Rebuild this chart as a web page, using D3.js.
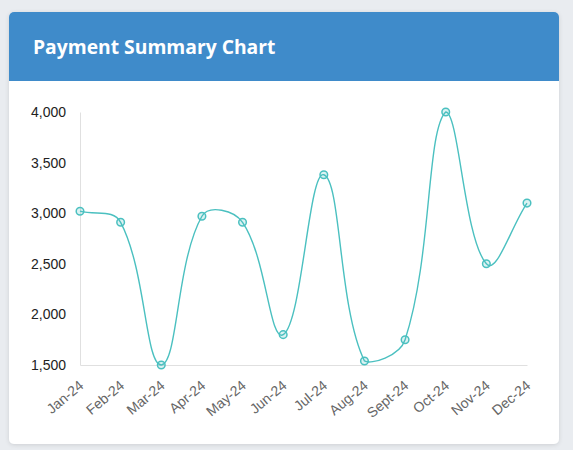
<!DOCTYPE html>
<html>
<head>
<meta charset="utf-8">
<script src="https://cdn.jsdelivr.net/npm/d3@7"></script>
<style>
  body { margin: 0; background: #e9ecf0; }
  svg { display: block; }
</style>
</head>
<body>
<div id="chart"></div>
<script>
var months = ["Jan-24", "Feb-24", "Mar-24", "Apr-24", "May-24", "Jun-24",
    "Jul-24", "Aug-24", "Sept-24", "Oct-24", "Nov-24", "Dec-24"];
var payments = [3020, 2910, 1500, 2970, 2910, 1800, 3380, 1540, 1750, 4000, 2500, 3100];
var yTicks = [1500, 2000, 2500, 3000, 3500, 4000];
var title = "Payment Summary Chart";

var W = 573, H = 450;
var card = { x: 9, y: 12, w: 550, h: 432, head: 69 };
var margin = { top: 112, left: 80, right: 46, bottom: 85 };
var width = W - margin.left - margin.right,
    height = H - margin.top - margin.bottom;

// chart.js style spline (tension 0.4, control points capped to plot area)
function chartSpline(context) {
    var pts;
    return {
        areaStart: function () {}, areaEnd: function () {},
        lineStart: function () { pts = []; },
        point: function (x, y) { pts.push([+x, +y]); },
        lineEnd: function () {
            var t = 0.4, n = pts.length, cps = [];
            for (var i = 0; i < n; i++) {
                var p = pts[i], a = pts[i - 1] || p, b = pts[i + 1] || p;
                var d01 = Math.hypot(p[0] - a[0], p[1] - a[1]);
                var d12 = Math.hypot(b[0] - p[0], b[1] - p[1]);
                var s01 = d01 / (d01 + d12) || 0, s12 = d12 / (d01 + d12) || 0;
                var fa = t * s01, fb = t * s12;
                var c = [[p[0] - fa * (b[0] - a[0]), p[1] - fa * (b[1] - a[1])],
                         [p[0] + fb * (b[0] - a[0]), p[1] + fb * (b[1] - a[1])]];
                c.forEach(function (q) {
                    q[0] = Math.max(0, Math.min(width, q[0]));
                    q[1] = Math.max(0, Math.min(height, q[1]));
                });
                cps.push(c);
            }
            context.moveTo(pts[0][0], pts[0][1]);
            for (var j = 1; j < n; j++) {
                context.bezierCurveTo(cps[j - 1][1][0], cps[j - 1][1][1],
                    cps[j][0][0], cps[j][0][1], pts[j][0], pts[j][1]);
            }
        }
    };
}

var svg = d3.select("#chart").append("svg")
    .attr("width", W)
    .attr("height", H);

var defs = svg.append("defs");
defs.append("clipPath").attr("id", "cardclip")
    .append("rect")
    .attr("x", card.x).attr("y", card.y)
    .attr("width", card.w).attr("height", card.h)
    .attr("rx", 5);
var f = defs.append("filter").attr("id", "shadow")
    .attr("x", "-5%").attr("y", "-5%").attr("width", "110%").attr("height", "110%");
f.append("feDropShadow").attr("dx", 0).attr("dy", 1).attr("stdDeviation", 2)
    .attr("flood-color", "#000").attr("flood-opacity", 0.12);

svg.append("rect")
    .attr("width", W).attr("height", H)
    .attr("fill", "#e9ecf0");

svg.append("rect")
    .attr("x", card.x).attr("y", card.y)
    .attr("width", card.w).attr("height", card.h)
    .attr("rx", 5)
    .attr("fill", "#fff")
    .attr("filter", "url(#shadow)");

svg.append("rect")
    .attr("clip-path", "url(#cardclip)")
    .attr("x", card.x).attr("y", card.y)
    .attr("width", card.w).attr("height", card.head)
    .attr("fill", "#3f8bca");

svg.append("text")
    .attr("x", 33).attr("y", 54)
    .attr("fill", "#fff")
    .style("font-family", "'Open Sans', sans-serif")
    .style("font-weight", "700")
    .style("font-size", "19.3px")
    .text(title);

var g = svg.append("g")
    .attr("transform", "translate(" + margin.left + "," + margin.top + ")");

var xScale = d3.scalePoint()
    .domain(months)
    .range([0, width]);

var yScale = d3.scaleLinear()
    .domain([1500, 4000])
    .range([height, 0]);

// y axis
var yAxis = g.append("g")
    .call(d3.axisLeft(yScale).tickValues(yTicks).tickSize(0).tickPadding(14)
        .tickFormat(d3.format(",")));
yAxis.select(".domain").attr("stroke", "#e0e0e0");
yAxis.selectAll("text")
    .attr("fill", "#222")
    .style("font-family", "'Liberation Sans', Arial, sans-serif")
    .style("font-size", "14px");

// x axis
var xAxis = g.append("g")
    .attr("transform", "translate(0," + height + ")")
    .call(d3.axisBottom(xScale).tickSize(0).tickPadding(0));
xAxis.select(".domain").attr("stroke", "#e0e0e0");
xAxis.selectAll("text")
    .attr("fill", "#666")
    .attr("dy", 0)
    .attr("text-anchor", "end")
    .attr("transform", "translate(4,22) rotate(-40)")
    .style("font-family", "'Liberation Sans', Arial, sans-serif")
    .style("font-size", "14px");

var line = d3.line()
    .x(function (d, i) { return xScale(months[i]); })
    .y(function (d) { return yScale(d); })
    .curve(chartSpline);

g.append("path")
    .datum(payments)
    .attr("fill", "none")
    .attr("stroke", "rgb(75,192,192)")
    .attr("stroke-width", 1.4)
    .attr("d", line);

g.selectAll(".dot")
    .data(payments)
    .enter().append("circle")
    .attr("class", "dot")
    .attr("cx", function (d, i) { return xScale(months[i]); })
    .attr("cy", function (d) { return yScale(d); })
    .attr("r", 3.8)
    .attr("fill", "rgba(75,192,192,0.2)")
    .attr("stroke", "rgb(75,192,192)")
    .attr("stroke-width", 1.5);
</script>
</body>
</html>
